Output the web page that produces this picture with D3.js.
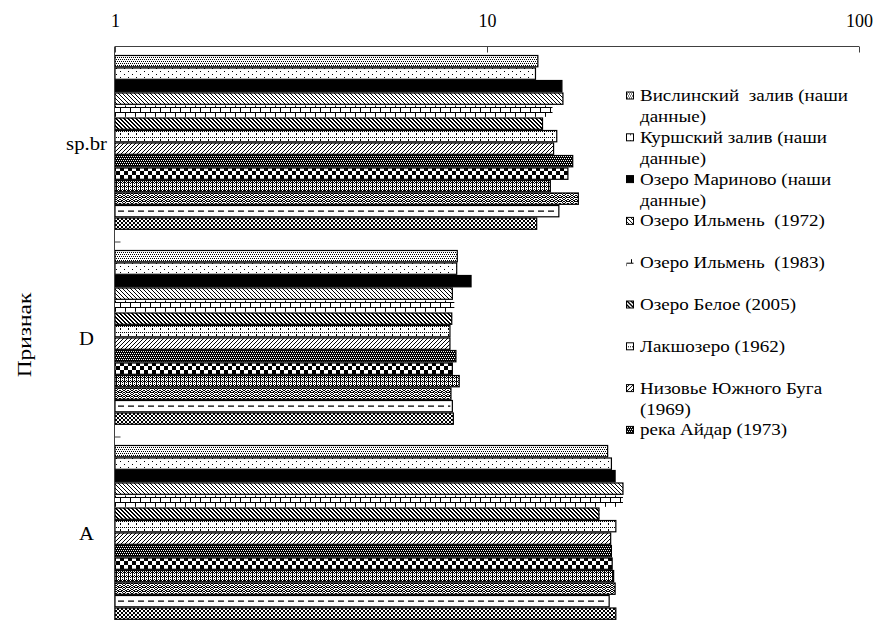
<!DOCTYPE html>
<html>
<head>
<meta charset="utf-8">
<script src="https://cdn.jsdelivr.net/npm/d3@7"></script>
<style>
  html, body { margin: 0; padding: 0; background: #fff; }
  svg { display: block; font-family: "Liberation Serif", "Times New Roman", serif; }
</style>
</head>
<body>
<svg id="chart" width="875" height="620"></svg>
<script>
// Признаки (категории оси)
const categories = ["sp.br", "D", "A"];

// Значения по признакам: [sp.br, D, A]
const vistulaLagoon   = [13.7, 8.32, 21.1];
const curonianLagoon  = [13.5, 8.29, 21.6];
const marinovo        = [15.9, 9.06, 22.1];
const ilmen1972       = [16.0, 8.07, 23.2];
const ilmen1983       = [15.0, 8.17, 23.2];
const beloe2005       = [14.1, 8.04, 20.0];
const lakshozero1962  = [15.4, 7.95, 22.2];
const southernBug1969 = [15.1, 7.95, 21.5];
const aidar1973       = [17.0, 8.25, 21.6];
const series10        = [16.5, 8.07, 21.7];
const series11        = [14.8, 8.42, 21.9];
const series12        = [17.6, 8.00, 22.1];
const series13        = [15.6, 8.07, 21.3];
const series14        = [13.6, 8.12, 22.2];

// Подписи легенды (видимые элементы)
const legendLabels = [
  "Вислинский  залив (наши\nданные)",
  "Куршский залив (наши\nданные)",
  "Озеро Мариново (наши\nданные)",
  "Озеро Ильмень  (1972)",
  "Озеро Ильмень  (1983)",
  "Озеро Белое (2005)",
  "Лакшозеро (1962)",
  "Низовье Южного Буга\n(1969)",
  "река Айдар (1973)"
];

// Подписи делений логарифмической оси
const xTicks = [1, 10, 100];

const seriesValues = [
  vistulaLagoon, curonianLagoon, marinovo, ilmen1972, ilmen1983, beloe2005,
  lakshozero1962, southernBug1969, aidar1973, series10, series11, series12,
  series13, series14
];

// Штриховки (битовые маски, '#' — чёрный пиксель)
const patternBitmaps = [
  ["#.#.", "....", ".#.#", "...."],
  ["#.......", "........", "........", "....#...", "........", "........"],
  null,
  ["#...", ".#..", "..#.", "...#"],
  ["##########", "#.........", "#.........", "#.........", "#.........",
   "##########", ".....#....", ".....#....", ".....#....", ".....#...."],
  ["##..", ".##.", "..##", "#..#"],
  ["#.#.#.#.", "........", "#.......", "#.......", "........", "........"],
  ["...#", "..#.", ".#..", "#..."],
  ["####", "#.#.", "####", ".#.#"],
  ["####....", "####....", "####....", "####....", "....####", "....####", "....####", "....####"],
  ["#.#.", "#...", "#.#.", "##.#"],
  ["#..##..#", ".##..##.", "##.##.##", "..#..#.."],
  null,
  [".##.", "#..#", "#..#", ".##."]
];

const H = 620;
const svg = d3.select("#chart");
const defs = svg.append("defs");

patternBitmaps.forEach((bm, i) => {
  if (!bm) return;
  const w = bm[0].length, h = bm.length;
  const p = defs.append("pattern")
    .attr("id", "pat" + i)
    .attr("patternUnits", "userSpaceOnUse")
    .attr("width", w).attr("height", h);
  p.append("rect").attr("width", w).attr("height", h).attr("fill", "#fff");
  bm.forEach((row, r) => {
    [...row].forEach((c, k) => {
      if (c === "#") p.append("rect").attr("x", k).attr("y", r)
        .attr("width", 1).attr("height", 1).attr("fill", "#000")
        .attr("shape-rendering", "crispEdges");
    });
  });
});

function fillFor(i) {
  if (i === 2) return "#000";
  if (i === 12) return "#fff";
  return "url(#pat" + i + ")";
}

// Шкалы
const x = d3.scaleLog().domain([1, 100]).range([115, 859]);
const y0 = d3.scaleBand().domain(categories).range([47, 632]);
const y1 = d3.scaleBand().domain(d3.range(seriesValues.length)).range([8, 183]);

const plot = svg.append("g");

categories.forEach((cat, ci) => {
  const g = plot.append("g").attr("transform", `translate(0,${y0(cat)})`);
  seriesValues.forEach((vals, si) => {
    const top = y1(si) + 0.5;
    const h = y1.bandwidth() - 1.2;
    g.append("rect")
      .attr("x", x(1))
      .attr("y", top)
      .attr("width", x(vals[ci]) - x(1))
      .attr("height", h)
      .attr("fill", fillFor(si))
      .attr("stroke", si === 4 ? "none" : "#000")
      .attr("stroke-width", 1.2);
    if (si === 12) {
      g.append("line")
        .attr("x1", x(1) + 3).attr("x2", x(vals[ci]) - 2)
        .attr("y1", top + h / 2).attr("y2", top + h / 2)
        .attr("stroke", "#000").attr("stroke-width", 1.2)
        .attr("stroke-dasharray", "6,4");
    }
  });
});

// Ось значений (сверху)
const xAxis = d3.axisTop(x).tickValues(xTicks).tickFormat(d3.format("d"))
  .tickSize(-6).tickPadding(20);
const gx = svg.append("g").attr("transform", "translate(0,46.5)").call(xAxis);
gx.attr("font-family", null).attr("font-size", null);
gx.select(".domain").attr("stroke", "#404040").attr("d", `M${x(1)},0H${x(100)}`);
gx.selectAll(".tick line").attr("stroke", "#404040");
gx.selectAll(".tick text").attr("font-size", 18).attr("fill", "#000");

// Ось признаков (слева)
const yAxis = d3.axisLeft(y0).tickSize(0).tickPadding(0);
const gy = svg.append("g").attr("transform", `translate(${x(1) - 0.5},0)`).call(yAxis);
gy.attr("font-family", null).attr("font-size", null).attr("text-anchor", null);
gy.select(".domain").attr("stroke", "#404040").attr("d", `M0,46.5V${H + 20}`);
gy.selectAll(".tick text")
  .attr("font-size", 18).attr("fill", "#000")
  .attr("x", null).attr("text-anchor", "middle")
  .attr("transform", "translate(-28,0) scale(1.15,1)");
categories.slice(1).forEach(cat => {
  gy.append("line").attr("x1", 0).attr("x2", 6)
    .attr("y1", y0(cat)).attr("y2", y0(cat))
    .attr("stroke", "#404040");
});

// Название оси
svg.append("text")
  .attr("transform", "translate(31,335) rotate(-90) scale(1.3,1)")
  .attr("text-anchor", "middle")
  .attr("font-size", 18)
  .text("Признак");

// Легенда
const legend = svg.append("g").attr("transform", "translate(626,0)");
legendLabels.forEach((lab, i) => {
  const cy = 95.5 + i * 41.8;
  const item = legend.append("g").attr("transform", `translate(0,${cy})`);
  item.append("rect")
    .attr("x", 0.5).attr("y", -3.5).attr("width", 7).attr("height", 7)
    .attr("fill", fillFor(i))
    .attr("stroke", i === 4 ? "none" : "#000");
  const t = item.append("text")
    .attr("transform", "translate(14,5.5) scale(1.12,1)")
    .attr("font-size", 17).style("white-space", "pre");
  lab.split("\n").forEach((line, li) => {
    t.append("tspan").attr("x", 0).attr("dy", li === 0 ? 0 : 21.5).text(line);
  });
});
</script>
</body>
</html>
